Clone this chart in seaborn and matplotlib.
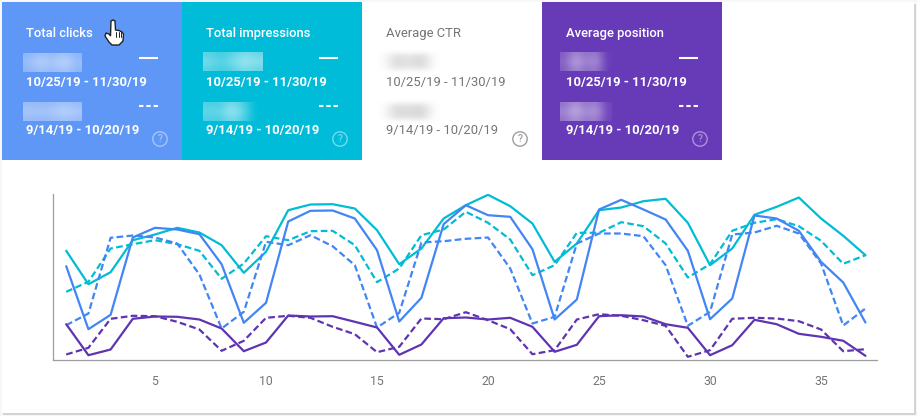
import numpy as np
import pandas as pd
import seaborn as sns
import matplotlib.pyplot as plt
from matplotlib.patches import Rectangle, Circle, Polygon

sns.set_style('white')
plt.rcParams['font.family'] = ['Roboto', 'DejaVu Sans']

# data, no y scale shown so height is just above the axis
days = list(range(1, 38))
tick_days = [5, 10, 15, 20, 25, 30, 35]

impressions_now = [108.7, 75.3, 87.3, 119.3, 125, 131.7, 127, 114.3, 86.7, 107.7, 149.3, 155, 155.3,
                   151, 129.3, 95.3, 111, 141, 154.3, 164.7, 153.3, 136, 97.7, 116, 149.3, 152, 158.3,
                   160.7, 136.7, 94.3, 111, 144.7, 152.7, 162, 141, 123.7, 104.3]
impressions_prev = [67.7, 77.7, 111, 115.3, 119.3, 115.3, 108.7, 80.7, 96, 123.3, 119.3, 128.3, 128.7,
                    114.3, 77.3, 91, 124.3, 130, 147.7, 136.7, 120, 84.3, 94.3, 126.7, 126.7, 137.3, 133.3,
                    116, 82, 95.3, 128.7, 136.7, 140.3, 133.3, 118.7, 95.7, 104.3]
clicks_now = [93.3, 30.3, 44.7, 122, 131.7, 130, 125.3, 95.3, 36.7, 56.7, 138, 148.7, 149,
              141, 109.3, 38, 61.7, 135.3, 154.3, 144.3, 142.7, 110.3, 40, 60, 150, 159.7, 150,
              140, 108.7, 40.3, 61, 144, 141, 128.7, 97.7, 77, 37]
clicks_prev = [34.3, 46, 121.7, 124, 122, 116, 85, 31, 47.7, 117.7, 114.3, 124.3, 113.3,
               94.3, 32, 46.7, 117, 118.3, 120.7, 122, 91, 36, 42.7, 116, 126, 126, 123.3,
               94.3, 33.7, 47.7, 125, 127, 133.7, 126, 96, 34, 51]
position_now = [35.3, 4.3, 10, 40.7, 43, 42.7, 40, 31, 8.3, 17, 44, 43, 43.3,
                37.7, 32, 4.7, 15, 41.3, 42, 40, 41.7, 32.7, 7.7, 14.7, 43.3, 44.3, 43,
                35.3, 31.7, 4.3, 14.3, 39.7, 35.3, 25.7, 22.7, 18.7, 3.7]
position_prev = [5, 11.7, 40.7, 43.7, 43.3, 37.7, 30, 8.7, 18.7, 41.7, 43.7, 41.7, 32.7,
                 25.3, 7.3, 12.7, 41, 40.3, 47.3, 39.3, 30.3, 5.3, 9.3, 40, 45.3, 43.7, 39.3,
                 33.7, 2.7, 9.3, 40.7, 41.7, 41, 38.3, 30, 8.3, 10.3]

titles = ['Total clicks', 'Total impressions', 'Average CTR', 'Average position']
range_now = '10/25/19 - 11/30/19'
range_prev = '9/14/19 - 10/20/19'

colors = {'impressions': '#00bcd4', 'clicks': '#4285f4', 'position': '#5e35b1'}
panel_colors = ['#5e97f6', '#00bcd8', '#ffffff', '#673ab7']
W, H = 917, 416

# long table for seaborn
frames = []
for metric, now, prev in [('impressions', impressions_now, impressions_prev),
                          ('clicks', clicks_now, clicks_prev),
                          ('position', position_now, position_prev)]:
    frames.append(pd.DataFrame({'day': days, 'value': now, 'metric': metric, 'period': 'now'}))
    frames.append(pd.DataFrame({'day': days, 'value': prev, 'metric': metric, 'period': 'prev'}))
df = pd.concat(frames)

fig = plt.figure(figsize=(W / 100, H / 100), dpi=100, facecolor='#f7f7f7')

# everything that is page furniture goes on an axes in pixel coordinates
bg = fig.add_axes([0, 0, 1, 1], zorder=0)
bg.set_xlim(0, W)
bg.set_ylim(H, 0)
bg.axis('off')

bg.add_patch(Rectangle((3, 4), 913, 411, color='#d4d4d4', lw=0))
bg.add_patch(Rectangle((2, 2), 912, 410.5, color='white', lw=0))
bg.add_patch(Rectangle((2, 159), 720, 1.2, color='#e4e4e4', lw=0))


def blur(x0, y0, x1, y1, color, lumps, prof):
    # fake the blurred out numbers
    alpha = np.outer(prof, lumps)
    rgba = np.zeros(alpha.shape + (4,))
    rgba[..., :3] = color
    rgba[..., 3] = alpha
    bg.imshow(rgba, extent=(x0, x1, y1, y0), aspect='auto', interpolation='bicubic', zorder=2)


hard = [0.8, 1, 1, 0.8]
soft = [0, 0.75, 1, 1, 0.75, 0]
blurs = [
    [(1, 1, 1), (23, 53, 82, 72), [.35, .55, .4, .6, .35], hard],
    [(1, 1, 1), (23, 102, 82, 121), [.45, .42, .45, .55, .45], hard],
    [(1, 1, 1), (203, 52, 263, 71), [.45, .3, .45, .62, .5], hard],
    [(1, 1, 1), (203, 102, 260, 121), [.38, .35, .62, .4, .0], hard],
    [(.5, .5, .5), (378, 49, 440, 74), [.0, .32, .18, .35, .0], soft],
    [(.5, .5, .5), (378, 99, 440, 124), [.0, .32, .24, .36, .0], soft],
    [(1, 1, 1), (560, 52, 612, 71), [.2, .55, .3, .45, .0], hard],
    [(1, 1, 1), (560, 102, 612, 121), [.35, .6, .35, .5, .05], hard],
]

for i, name in enumerate(titles):
    x0 = 2 + i * 180
    fg = '#757575' if i == 2 else 'white'
    wt = 'normal' if i == 2 else 500
    bg.add_patch(Rectangle((x0, 2), 180, 158, color=panel_colors[i], lw=0, zorder=1))
    bg.text(x0 + 23.7, 33.6, name, color=fg, fontsize=9.4, fontweight=wt, va='center', zorder=3)
    bg.text(x0 + 23.7, 82.6, range_now, color=fg, fontsize=9.4, fontweight='normal' if i == 2 else 'bold',
            va='center', zorder=3)
    bg.text(x0 + 23.7, 130.3, range_prev, color=fg, fontsize=9.4, fontweight='normal' if i == 2 else 'bold',
            va='center', zorder=3)
    # help icon
    alpha = 0.7 if i == 2 else 0.45
    bg.add_patch(Circle((x0 + 158, 139), 7.2, fill=False, ec=fg, lw=1, alpha=alpha, zorder=3))
    bg.text(x0 + 158, 139.3, '?', color=fg, alpha=alpha, fontsize=7.5, fontweight=500,
            ha='center', va='center', zorder=3)
    # little line keys
    if i != 2:
        bg.plot([x0 + 137, x0 + 156], [58, 58], color='white', lw=1.5, solid_capstyle='butt', zorder=3)
        bg.plot([x0 + 137, x0 + 156], [106, 106], color='white', lw=1.5, dashes=(2.1, 1.4),
                dash_capstyle='butt', zorder=3)

for col, (x0, y0, x1, y1), lumps, prof in blurs:
    blur(x0, y0, x1, y1, col, lumps, prof)

# mouse cursor
hand = [(111, 21), (113, 20), (115, 21), (115.5, 30), (119, 30.5), (122, 32), (123.5, 34), (123, 41),
        (119, 45), (112, 45), (109, 42), (105, 36), (106, 33), (109, 34), (110.5, 36)]
bg.add_patch(Polygon(hand, closed=True, fc='white', ec='#222222', lw=1, zorder=4))
for fx in [115.5, 118.5, 121]:
    bg.plot([fx, fx], [32, 37], color='#222222', lw=0.7, zorder=5)
bg.set_xlim(0, W)
bg.set_ylim(H, 0)

# the chart
ax = fig.add_axes([53 / W, (H - 359.5) / H, 824 / W, 165.5 / H], zorder=1)
ax.patch.set_alpha(0)
sns.lineplot(data=df, x='day', y='value', hue='metric', style='period',
             palette=colors, dashes={'now': '', 'prev': (3, 1.5)},
             hue_order=['impressions', 'clicks', 'position'], style_order=['prev', 'now'],
             linewidth=1.6, errorbar=None, legend=False, ax=ax)
ax.set_xlim(0.405, 37.52)
ax.set_ylim(0, 165.5)
ax.set_xticks(tick_days)
ax.set_yticks([])
ax.set_xlabel('')
ax.set_ylabel('')
ax.tick_params(axis='x', length=0, pad=11.5, labelsize=8.8, labelcolor='#757575')
sns.despine(ax=ax)
for side in ['left', 'bottom']:
    ax.spines[side].set_color('#9e9e9e')
    ax.spines[side].set_linewidth(0.9)

fig.savefig('out.png', dpi=100, facecolor=fig.get_facecolor())
